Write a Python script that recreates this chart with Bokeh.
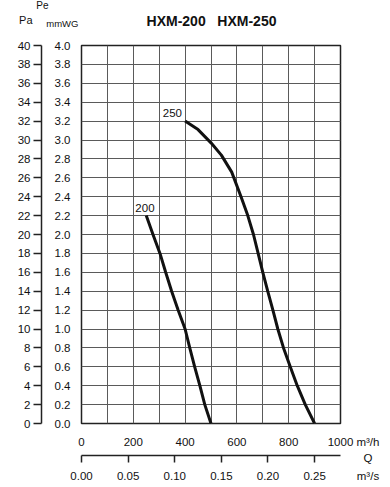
from bokeh.plotting import figure
from bokeh.models import (LinearAxis, Range1d, FixedTicker, PrintfTickFormatter, Label)
from bokeh.embed import file_html
from bokeh.resources import INLINE

# ---- data ----
q200 = [250, 276, 303, 325, 348, 373, 400, 418, 437, 457, 476, 500]
pe200 = [2.2, 2.0, 1.8, 1.6, 1.4, 1.2, 1.0, 0.8, 0.6, 0.4, 0.2, 0.0]
q250 = [400, 450, 500, 540, 580, 616, 642, 664, 682, 700, 719, 739, 758, 780, 806, 833, 864, 900]
pe250 = [3.2, 3.11, 2.97, 2.84, 2.66, 2.4, 2.2, 2.0, 1.8, 1.6, 1.4, 1.2, 1.0, 0.8, 0.6, 0.4, 0.2, 0.0]

x_ticks_m3h = [0, 200, 400, 600, 800, 1000]
x_ticks_m3s = [0.0, 0.05, 0.10, 0.15, 0.20, 0.25]
y_ticks_mmwg = [round(i * 0.2, 1) for i in range(21)]
y_ticks_pa = list(range(0, 41, 2))
x_grid = list(range(0, 1001, 100))

FONT = "Liberation Sans"

p = figure(frame_width=259, frame_height=378, output_backend="svg", toolbar_location=None,
           x_range=Range1d(0, 1000), y_range=Range1d(0, 4),
           min_border_left=81, min_border_right=50, min_border_top=45, min_border_bottom=64,
           background_fill_color="white", border_fill_color="white")
p.extra_y_ranges = {"pa": Range1d(0, 40)}
p.extra_x_ranges = {"q": Range1d(0, 1000 / 3600)}

p.outline_line_color = "#222222"
p.outline_line_width = 1.5

# grid
p.xgrid.ticker = FixedTicker(ticks=x_grid)
p.ygrid.ticker = FixedTicker(ticks=y_ticks_mmwg)
for g in (p.xgrid, p.ygrid):
    g.grid_line_color = "#5a5a5a"
    g.grid_line_width = 1
    g.grid_line_alpha = 1

# mmWG axis (primary left)
ya = p.yaxis[0]
ya.ticker = FixedTicker(ticks=y_ticks_mmwg)
ya.formatter = PrintfTickFormatter(format="%.1f")
ya.major_tick_out = 0
ya.major_tick_in = 0
ya.minor_tick_out = 0
ya.minor_tick_in = 0
ya.axis_line_color = None
ya.major_label_standoff = 11
ya.axis_label = " "
ya.axis_label_text_font_size = "1px"
ya.axis_label_standoff = 6

# Pa axis
pa = LinearAxis(y_range_name="pa", ticker=FixedTicker(ticks=y_ticks_pa))
pa.major_tick_out = 8
pa.major_tick_in = 0
pa.minor_tick_out = 0
pa.minor_tick_in = 0
pa.axis_line_color = "#222222"
pa.axis_line_width = 1.5
pa.major_tick_line_color = "#222222"
pa.major_tick_line_width = 1.5
pa.major_label_standoff = 3
p.add_layout(pa, "left")

# m3/h axis (primary bottom)
xa = p.xaxis[0]
xa.ticker = FixedTicker(ticks=x_ticks_m3h)
xa.major_tick_out = 0
xa.major_tick_in = 0
xa.minor_tick_out = 0
xa.minor_tick_in = 0
xa.axis_line_color = None
xa.major_label_standoff = 14
xa.axis_label = " "
xa.axis_label_text_font_size = "1px"
xa.axis_label_standoff = 3

# m3/s axis
qa = LinearAxis(x_range_name="q", ticker=FixedTicker(ticks=x_ticks_m3s),
                formatter=PrintfTickFormatter(format="%.2f"))
qa.major_tick_out = 7
qa.major_tick_in = 0
qa.minor_tick_out = 0
qa.minor_tick_in = 0
qa.axis_line_color = "#222222"
qa.axis_line_width = 1.5
qa.major_tick_line_color = "#222222"
qa.major_tick_line_width = 1.5
qa.major_label_standoff = 9
p.add_layout(qa, "below")

for ax in (ya, pa, xa, qa):
    ax.major_label_text_font = FONT
    ax.major_label_text_font_size = "11.5px"
    ax.major_label_text_color = "#111111"

# curves
p.line(q200, pe200, line_color="#111111", line_width=3)
p.line(q250, pe250, line_color="#111111", line_width=3)

def lab(x, y, t, size="11.5px", bold=False, side=None):
    l = Label(x=x, y=y, text=t, text_font=FONT, text_font_size=size,
              text_align="center", text_baseline="middle", text_color="#111111",
              text_font_style="bold" if bold else "normal")
    if side is None:
        p.add_layout(l)
    else:
        p.add_layout(l, side)

lab(351, 3.29, "250")
lab(245, 2.28, "200")
lab(502, 4.26, "HXM-200\u00a0\u00a0\u00a0HXM-250", size="14px", bold=True, side="above")
lab(-74, 4.235, "mmWG", size="9.5px", side="above")
lab(1106, -0.20, "m³/h", size="11.5px", side="above")
lab(-151, 4.42, "Pe", size="10px", side="right")
lab(-215, 4.27, "Pa", size="11px", side="right")
lab(1106, -0.553, "m³/s", size="11.5px", side="right")
lab(1106, -0.36, "Q", size="11.5px", side="left")

open("out.html", "w").write(file_html(p, INLINE))
